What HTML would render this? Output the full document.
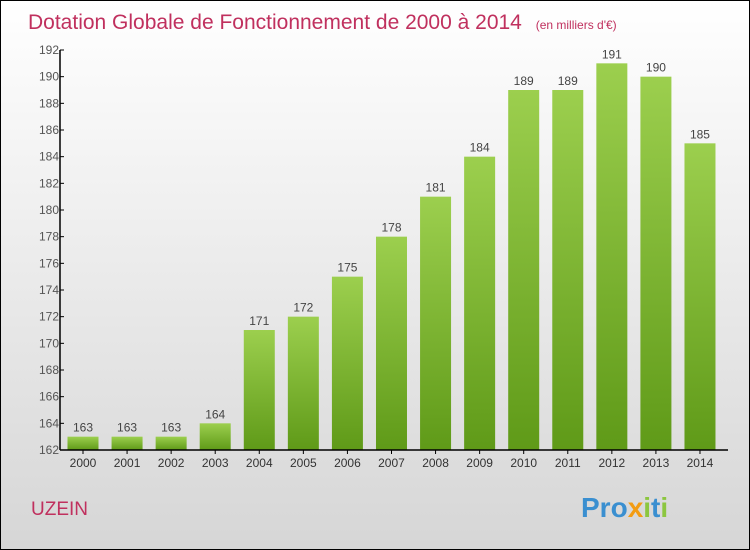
<!DOCTYPE html>
<html><head><meta charset="utf-8"><style>
body{margin:0}
#c{width:748px;height:548px;border:1px solid #000;background:linear-gradient(#fff,#d6d6d6);position:relative;font-family:"Liberation Sans",sans-serif}
</style></head><body>
<div id="c">
<svg width="748" height="548" style="position:absolute;left:0;top:0" id="svg">
<text x="27" y="28" font-size="21" fill="#c0305e">Dotation Globale de Fonctionnement de 2000 à 2014 <tspan font-size="12" dx="8">(en milliers d'€)</tspan></text>
<text x="30" y="514" font-size="19" fill="#c0305e">UZEIN</text>
<text x="580" y="516" font-size="28" font-weight="bold"><tspan fill="#3a8fd0">Pro</tspan><tspan fill="#f39c12">x</tspan><tspan fill="#8cc63f">i</tspan><tspan fill="#3a8fd0">t</tspan><tspan fill="#8cc63f">i</tspan></text>
<defs><linearGradient id="g" x1="0" y1="0" x2="0" y2="1"><stop offset="0" stop-color="#9ccf4e"/><stop offset="1" stop-color="#5f9a18"/></linearGradient></defs>
<g id="plot"></g>
</svg></div>
<script>
const years=["2000","2001","2002","2003","2004","2005","2006","2007","2008","2009","2010","2011","2012","2013","2014"];
const values=[163,163,163,164,171,172,175,178,181,184,189,189,191,190,185];
const ticks=[162,164,166,168,170,172,174,176,178,180,182,184,186,188,190,192];
const ns="http://www.w3.org/2000/svg",g=document.getElementById('plot');
const x0=59,y0=449,ymin=162,ymax=192,ph=400,step=44.07;
const y=v=>y0-(v-ymin)/(ymax-ymin)*ph;
const xc=i=>x0+23+i*step;
function mk(t,a){const e=document.createElementNS(ns,t);for(const k in a)e.setAttribute(k,a[k]);g.appendChild(e);return e;}
values.forEach((v,i)=>{
 const r=mk('rect',{x:xc(i)-15.5,y:y(v),width:31,height:y0-y(v),fill:'url(#g)'});
 
 
 const t=mk('text',{x:xc(i),y:y(v)-5,'text-anchor':'middle','font-size':12,fill:'#444'});t.textContent=v;
 
 
 const l=mk('text',{x:xc(i),y:y0+17,'text-anchor':'middle','font-size':12,fill:'#333'});l.textContent=years[i];
 
 
 mk('line',{x1:xc(i),x2:xc(i),y1:y0,y2:y0+4,stroke:'#000'});
});
ticks.forEach(v=>{
 mk('line',{x1:x0,x2:x0+4,y1:y(v),y2:y(v),stroke:'#000'});
 const t=mk('text',{x:x0-1,y:y(v)+4,'text-anchor':'end','font-size':12,fill:'#555'});t.textContent=v;
 
 
});
const ya=mk('line',{x1:x0,x2:x0,y1:y0-ph,y2:y0,stroke:'#000','stroke-width':1.5});


const xa=mk('line',{x1:x0,x2:727,y1:y0,y2:y0,stroke:'#000','stroke-width':1.5});


</script>
</body></html>
